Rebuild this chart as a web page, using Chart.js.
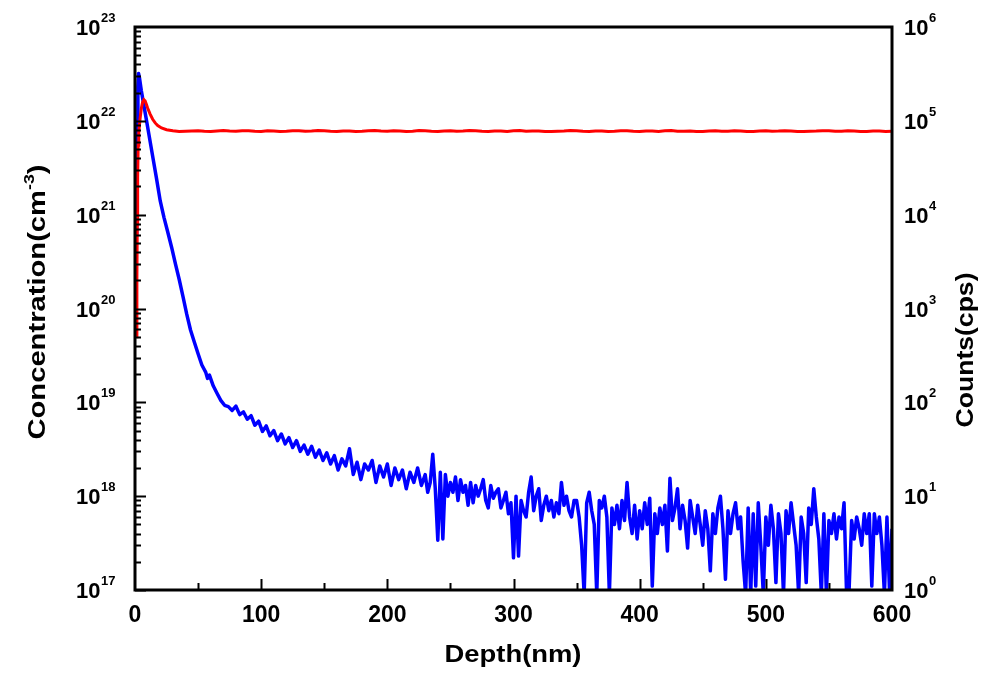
<!DOCTYPE html>
<html>
<head>
<meta charset="utf-8">
<title>Depth profile</title>
<script src="https://cdn.jsdelivr.net/npm/chart.js@4.4.1/dist/chart.umd.min.js"></script>
<style>
  body { margin: 0; background: #fff; }
  #wrap { position: relative; width: 987px; height: 679px; }
</style>
</head>
<body>
<div id="wrap"><canvas id="profileChart"></canvas></div>
<script>
// concentration profile (blue, left axis)
const blueDepth = [
  0.8, 1.3, 1.8, 2.3, 2.8, 3.5, 5, 8, 11, 14,
  17, 20, 23, 26, 29, 32, 35, 38, 41, 44,
  47, 50, 53, 56, 57.5, 59, 62, 65, 68, 71,
  74, 77, 80, 83, 86, 89, 92, 95, 98, 101,
  104, 107, 110, 113, 116, 119, 122, 125, 128, 131,
  134, 137, 140, 143, 146, 149, 152, 155, 158, 161,
  164, 167, 170, 173, 176, 179, 182, 185, 188, 191,
  194, 197, 200, 203, 206, 209, 212, 215, 218, 221,
  224, 227, 230,
  232, 234, 236, 238, 240, 242, 244, 246, 248, 250,
  252, 254, 256, 258, 260, 262, 264, 266, 268, 270,
  272, 274, 276, 278, 280, 282, 284, 286, 288, 290,
  292, 294, 296, 298, 300, 302, 304, 306, 308, 310,
  312, 314, 316, 318, 320, 322, 324, 326, 328, 330,
  332, 334, 336, 338, 340, 342, 344, 346, 348, 350,
  352, 354, 356, 358, 360, 362, 364, 366, 368, 370,
  372, 374, 376, 378, 380, 382, 384, 386, 388, 390,
  392, 394, 396, 398, 400, 402, 404, 406, 408, 410,
  412, 414, 416, 418, 420, 422, 424, 426, 428, 430,
  432, 434, 436, 438, 440, 442, 444, 446, 448, 450,
  452, 454, 456, 458, 460, 462, 464, 466, 468, 470,
  472, 474, 476, 478, 480, 482, 484, 486, 488, 490,
  492, 494, 496, 498, 500, 502, 504, 506, 508, 510,
  512, 514, 516, 518, 520, 522, 524, 526, 528, 530,
  532, 534, 536, 538, 540, 542, 544, 546, 548, 550,
  552, 554, 556, 558, 560, 562, 564, 566, 568, 570,
  572, 574, 576, 578, 580, 582, 584, 586, 588, 590,
  592, 594, 596, 598, 600
];
const blueConc = [
  6e20, 3e21, 1e22, 2.3e22, 3.2e22, 2.9e22, 2.1e22, 1.23e22, 7.2e21, 4.2e21,
  2.45e21, 1.4e21, 9.3e20, 6.5e20, 4.5e20, 3.0e20, 2.05e20, 1.35e20, 8.7e19, 5.9e19,
  4.4e19, 3.3e19, 2.5e19, 2.1e19, 1.8e19, 1.95e19, 1.5e19, 1.25e19, 1.05e19, 9.3e18,
  9.0e18, 8.2e18, 9.1e18, 7.4e18, 7.9e18, 6.6e18, 7.2e18, 5.7e18, 6.3e18, 4.9e18,
  5.6e18, 4.4e18, 5.0e18, 3.9e18, 4.6e18, 3.6e18, 4.2e18, 3.3e18, 3.9e18, 3.0e18,
  3.5e18, 2.8e18, 3.4e18, 2.6e18, 3.1e18, 2.4e18, 2.9e18, 2.2e18, 2.7e18, 1.9e18,
  2.5e18, 2.1e18, 3.2e18, 1.7e18, 2.3e18, 1.5e18, 2.2e18, 1.9e18, 2.4e18, 1.4e18,
  2.1e18, 1.6e18, 2.2e18, 1.3e18, 2.0e18, 1.5e18, 1.9e18, 1.2e18, 1.8e18, 1.4e18,
  2.0e18, 1.3e18, 1.7e18,
  1.1e18, 1.4e18, 2.8e18, 1.2e18, 3.4e17, 1.8e18, 3.5e17, 1.7e18, 1.0e18, 1.4e18,
  1.1e18, 1.6e18, 9.0e17, 1.5e18, 1.1e18, 1.3e18, 8.0e17, 1.4e18, 8.5e17, 1.3e18,
  1.0e18, 1.2e18, 1.5e18, 9.0e17, 7.5e17, 1.3e18, 9.5e17, 1.1e18, 1.2e18, 7.5e17,
  9.0e17, 1.1e18, 6.5e17, 8.5e17, 2.2e17, 1.0e18, 2.3e17, 9.0e17, 7.0e17, 6.0e17,
  1.1e18, 1.6e18, 7.0e17, 1.0e18, 1.2e18, 5.5e17, 8.0e17, 1.0e18, 7.0e17, 9.0e17,
  6.0e17, 8.5e17, 6.5e17, 1.4e18, 8.0e17, 1.0e18, 7.0e17, 6.0e17, 9.0e17, 9.0e17,
  6.0e17, 3.0e17, 9e16, 8.5e17, 1.1e18, 7.0e17, 5.0e17, 9e16, 9.0e17, 7.5e17,
  1.0e18, 6.0e17, 9e16, 7.5e17, 5.0e17, 8.0e17, 4.5e17, 9.0e17, 5.5e17, 1.4e18,
  6.0e17, 4.0e17, 8.0e17, 3.5e17, 7.0e17, 4.5e17, 8.5e17, 5.0e17, 9.5e17, 1.1e17,
  6.5e17, 4.0e17, 7.5e17, 5.0e17, 8.0e17, 2.6e17, 1.55e18, 5.5e17, 7.5e17, 1.2e18,
  4.5e17, 8.0e17, 5.5e17, 2.8e17, 9.0e17, 6.0e17, 4.0e17, 8.0e17, 5.0e17, 3.0e17,
  7.0e17, 4.5e17, 1.6e17, 6.5e17, 4.0e17, 7.5e17, 1.0e18, 4.5e17, 1.3e17, 7.0e17,
  4.0e17, 6.5e17, 8.5e17, 4.5e17, 6.0e17, 2.0e17, 9e16, 7.5e17, 9e16, 6.5e17,
  1.1e17, 8.5e17, 3.0e17, 9e16, 6.0e17, 3.0e17, 8.0e17, 4.5e17, 1.2e17, 6.5e17,
  4.0e17, 9e16, 7.0e17, 4.0e17, 8.5e17, 5.0e17, 3.0e17, 9e16, 6.0e17, 4.0e17,
  1.2e17, 7.5e17, 5.0e17, 1.2e18, 6.0e17, 3.5e17, 9e16, 6.5e17, 9e16, 5.5e17,
  4.0e17, 6.5e17, 3.5e17, 6.0e17, 4.5e17, 8.5e17, 9e16, 1e17, 5.5e17, 3.5e17,
  6.0e17, 4.5e17, 3.0e17, 6.5e17, 4.0e17, 6.5e17, 1.1e17, 6.5e17, 4.0e17, 6.0e17,
  3.0e17, 9e16, 6.0e17, 1e17, 4.5e17
];

// counts profile (red, right axis)
const redDepth = [
  1.2, 1.5, 1.8, 2.1, 2.5, 3, 4, 5, 6, 7,
  8, 9, 10, 12, 14, 16, 18, 21, 25, 30,
  35, 40, 45, 50, 55, 60, 65, 70, 75, 80,
  85, 90, 95, 100, 105, 110, 115, 120, 125, 130,
  135, 140, 145, 150, 155, 160, 165, 170, 175, 180,
  185, 190, 195, 200, 205, 210, 215, 220, 225, 230,
  235, 240, 245, 250, 255, 260, 265, 270, 275, 280,
  285, 290, 295, 300, 305, 310, 315, 320, 325, 330,
  335, 340, 345, 350, 355, 360, 365, 370, 375, 380,
  385, 390, 395, 400, 405, 410, 415, 420, 425, 430,
  435, 440, 445, 450, 455, 460, 465, 470, 475, 480,
  485, 490, 495, 500, 505, 510, 515, 520, 525, 530,
  535, 540, 545, 550, 555, 560, 565, 570, 575, 580,
  585, 590, 595, 600
];
const redCounts = [
  500, 2000, 8000, 25000, 55000, 75000, 105000, 135000, 158000, 168000,
  163000, 150000, 137000, 118000, 104000, 95000, 89000, 84000, 80500, 78500,
  77000, 77500, 78100, 78200, 77300, 77000, 78000, 78800, 77900, 77600,
  78600, 78400, 77500, 77200, 78300, 78000, 77000, 77400, 78200, 78600,
  77600, 77800, 78900, 78300, 77400, 76900, 77800, 78100, 77200, 77500,
  78400, 78700, 77800, 77300, 78200, 78000, 77100, 77600, 78700, 78500,
  77600, 77100, 77900, 78200, 77300, 77700, 78800, 78400, 77500, 77000,
  78000, 77900, 77100, 78300, 78900, 77400, 77700, 78100, 77200, 76800,
  77600, 77900, 78700, 78500, 77400, 77200, 78100, 78000, 77100, 77600,
  78500, 78300, 77400, 77100, 77900, 77800, 76900, 78400, 78800, 77300,
  77600, 77900, 77000, 76900, 77800, 78200, 77400, 77500, 78400, 78000,
  77100, 77200, 78000, 78500, 77600, 77700, 78500, 78100, 77000, 76800,
  77500, 77900, 78600, 78300, 77300, 77400, 78200, 78000, 77000, 77100,
  77900, 77800, 76900, 77500
];

const depthTicks = [0, 100, 200, 300, 400, 500, 600];
const concExponents = [17, 18, 19, 20, 21, 22, 23];
const countExponents = [0, 1, 2, 3, 4, 5, 6];

const FONT = '"Liberation Sans", Arial, sans-serif';

function drawPower(ctx, exp, x, y, alignRight) {
  const base = 'bold 22px ' + FONT;
  const sup = 'bold 13px ' + FONT;
  ctx.font = base;
  const bw = ctx.measureText('10').width;
  ctx.font = sup;
  const sw = ctx.measureText(String(exp)).width;
  const left = alignRight ? x - bw - sw : x;
  ctx.textAlign = 'left';
  ctx.textBaseline = 'alphabetic';
  ctx.font = base;
  ctx.fillText('10', left, y + 8);
  ctx.font = sup;
  ctx.fillText(String(exp), left + bw + 0.5, y - 5);
}

// text stretched along its reading direction to a given length
function drawTitle(ctx, parts, cx, cy, length, vertical) {
  let total = 0;
  parts.forEach(p => {
    ctx.font = 'bold ' + p.size + 'px ' + FONT;
    p.w = ctx.measureText(p.text).width;
    total += p.w;
  });
  ctx.save();
  ctx.translate(cx, cy);
  if (vertical) ctx.rotate(-Math.PI / 2);
  ctx.scale(length / total, 1);
  ctx.textAlign = 'left';
  ctx.textBaseline = 'alphabetic';
  let x = -total / 2;
  parts.forEach(p => {
    ctx.font = 'bold ' + p.size + 'px ' + FONT;
    ctx.fillText(p.text, x, -(p.rise || 0));
    x += p.w;
  });
  ctx.restore();
}

const frameAndLabels = {
  id: 'frameAndLabels',
  afterDatasetsDraw(chart) {
    const { ctx, chartArea: a, scales } = chart;
    const xs = scales.x, yl = scales.y, yr = scales.y2;
    ctx.save();
    ctx.fillStyle = '#000';
    ctx.strokeStyle = '#000';

    // inward ticks, left axis
    ctx.lineWidth = 2;
    ctx.beginPath();
    for (let e = 17; e < 23; e++) {
      for (let m = 1; m < 10; m++) {
        const py = Math.round(yl.getPixelForValue(m * Math.pow(10, e))) + 0.5;
        ctx.moveTo(a.left, py);
        ctx.lineTo(a.left + (m === 1 ? 11 : 6), py);
      }
    }
    // inward ticks, bottom axis
    for (let d = 50; d < 600; d += 50) {
      const px = Math.round(xs.getPixelForValue(d)) + 0.5;
      ctx.moveTo(px, a.bottom);
      ctx.lineTo(px, a.bottom - (d % 100 === 0 ? 11 : 7));
    }
    ctx.stroke();

    // frame
    ctx.lineWidth = 3;
    ctx.strokeRect(a.left, a.top, a.right - a.left, a.bottom - a.top);

    // tick labels
    concExponents.forEach(e => drawPower(ctx, e, a.left - 20, yl.getPixelForValue(Math.pow(10, e)), true));
    countExponents.forEach(e => drawPower(ctx, e, a.right + 12, yr.getPixelForValue(Math.pow(10, e)), false));
    ctx.font = 'bold 23px ' + FONT;
    ctx.textAlign = 'center';
    ctx.textBaseline = 'alphabetic';
    depthTicks.forEach(d => ctx.fillText(String(d), xs.getPixelForValue(d), 622));

    // axis titles
    drawTitle(ctx, [{ text: 'Depth(nm)', size: 23 }], 513, 662, 137, false);
    drawTitle(ctx, [
      { text: 'Concentration(cm', size: 23 },
      { text: '-3', size: 14, rise: 11 },
      { text: ')', size: 23 }
    ], 45, 302, 275, true);
    drawTitle(ctx, [{ text: 'Counts(cps)', size: 23 }], 973, 350, 155, true);
    ctx.restore();
  }
};

const ctxProfile = document.getElementById('profileChart').getContext('2d');
new Chart(ctxProfile, {
  type: 'line',
  data: {
    datasets: [{
      label: 'Counts',
      data: redDepth.map((d, i) => ({ x: d, y: redCounts[i] })),
      yAxisID: 'y2',
      borderColor: '#ff0000',
      borderWidth: 3,
      pointRadius: 0,
      tension: 0,
      clip: 0
    }, {
      label: 'Concentration',
      data: blueDepth.map((d, i) => ({ x: d, y: blueConc[i] })),
      yAxisID: 'y',
      borderColor: '#0000ff',
      borderWidth: 3.5,
      borderJoinStyle: 'round',
      pointRadius: 0,
      tension: 0,
      clip: 0
    }]
  },
  options: {
    responsive: true,
    maintainAspectRatio: false,
    animation: false,
    layout: { padding: { top: 27, left: 0, right: 0, bottom: 0 } },
    plugins: {
      legend: { display: false },
      tooltip: { enabled: false }
    },
    scales: {
      x: {
        type: 'linear',
        min: 0,
        max: 600,
        grid: { display: false, drawTicks: false },
        border: { display: false },
        ticks: { display: false },
        afterFit(s) { s.height = 89; }
      },
      y: {
        type: 'logarithmic',
        position: 'left',
        min: 1e17,
        max: 1e23,
        grid: { display: false, drawTicks: false },
        border: { display: false },
        ticks: { display: false },
        afterFit(s) { s.width = 135; }
      },
      y2: {
        type: 'logarithmic',
        position: 'right',
        min: 1,
        max: 1e6,
        grid: { display: false, drawTicks: false },
        border: { display: false },
        ticks: { display: false },
        afterFit(s) { s.width = 95; }
      }
    }
  },
  plugins: [frameAndLabels]
});
</script>
</body>
</html>
